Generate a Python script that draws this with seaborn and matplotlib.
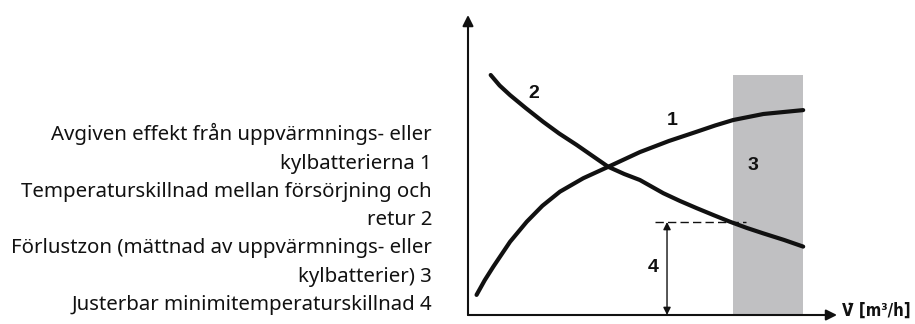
import seaborn as sns
import matplotlib.pyplot as plt
import pandas as pd

# curve 1: heat/cool output, curve 2: supply/return temperature difference
flow_1 = [0.23, 0.45, 0.68, 1.13, 1.58, 2.0, 2.47, 3.1, 3.77, 4.62, 5.4,
          6.15, 6.65, 7.13, 7.94, 9.01]
output_1 = [0.67, 1.16, 1.61, 2.44, 3.11, 3.64, 4.11, 4.56, 4.94, 5.43, 5.8,
            6.11, 6.32, 6.50, 6.70, 6.83]
flow_2 = [0.61, 0.85, 1.13, 1.55, 2.02, 2.45, 2.92, 3.35, 3.77, 4.2, 4.62,
          5.25, 5.7, 6.15, 6.6, 7.04, 7.5, 7.94, 8.5, 9.01]
dtemp_2 = [8.00, 7.65, 7.33, 6.9, 6.44, 6.05, 5.67, 5.3, 4.94, 4.7, 4.50,
           4.06, 3.8, 3.56, 3.33, 3.11, 2.9, 2.72, 2.5, 2.28]

loss_zone = (7.12, 9.0, 8.0)   # x start, x end, height
min_dt = 3.1
min_dt_x = 5.35
dash_span = (5.03, 7.47)

labels = ["1", "2", "3", "4"]
label_x = [5.48, 1.77, 7.66, 4.97]
label_y = [6.47, 7.37, 4.97, 1.57]

legend_lines = [
    "Avgiven effekt från uppvärmnings- eller",
    "kylbatterierna 1",
    "Temperaturskillnad mellan försörjning och",
    "retur 2",
    "Förlustzon (mättnad av uppvärmnings- eller",
    "kylbatterier) 3",
    "Justerbar minimitemperaturskillnad 4",
]
x_label = "V\u0307 [m³/h]"

sns.set_style("white")
plt.rcParams["font.family"] = ["Liberation Sans", "DejaVu Sans"]

df1 = pd.DataFrame({"flow": flow_1, "value": output_1})
df2 = pd.DataFrame({"flow": flow_2, "value": dtemp_2})

fig = plt.figure(figsize=(9.15, 3.24), dpi=100)
ax = fig.add_axes([468 / 915, 9 / 324, 372 / 915, 300 / 324])
ax.set_xlim(0, 10)
ax.set_ylim(0, 10)
ax.axis("off")

ax.axvspan(loss_zone[0], loss_zone[1], ymin=0, ymax=loss_zone[2] / 10,
           color="#c0c0c2", lw=0, zorder=0)

sns.lineplot(data=df1, x="flow", y="value", ax=ax, color="#111111", lw=3,
             sort=False, solid_capstyle="round", solid_joinstyle="round")
sns.lineplot(data=df2, x="flow", y="value", ax=ax, color="#111111", lw=3,
             sort=False, solid_capstyle="round", solid_joinstyle="round")

ax.plot(dash_span, [min_dt, min_dt], color="#111111", lw=1, ls=(0, (6, 3)))
ax.annotate("", xy=(min_dt_x, min_dt), xytext=(min_dt_x, 0),
            arrowprops=dict(arrowstyle="<|-|>", color="#111111", lw=1,
                            mutation_scale=11, shrinkA=0, shrinkB=0))

# axes with arrow heads
ax.annotate("", xy=(0, 10), xytext=(0, 0), annotation_clip=False,
            arrowprops=dict(arrowstyle="-|>", color="#111111", lw=1.5,
                            mutation_scale=16, shrinkA=0, shrinkB=0))
ax.annotate("", xy=(9.92, 0), xytext=(0, 0), annotation_clip=False,
            arrowprops=dict(arrowstyle="-|>", color="#111111", lw=1.5,
                            mutation_scale=16, shrinkA=0, shrinkB=0))
ax.text(10.05, 0.15, x_label, ha="left", va="center", fontsize=12,
        fontweight="bold", fontstretch="condensed", color="#111111",
        clip_on=False, family=["DejaVu Sans"])

for t, x, y in zip(labels, label_x, label_y):
    ax.text(x, y, t, ha="center", va="center", fontsize=14,
            fontweight="bold", color="#111111")

fig.text(432 / 915, 1 - 219 / 324, "\n".join(legend_lines), ha="right",
         va="center", multialignment="right", fontsize=14.7, linespacing=1.55,
         color="#111111", family=["Noto Sans", "DejaVu Sans"])

fig.savefig("out.png", dpi=100)
